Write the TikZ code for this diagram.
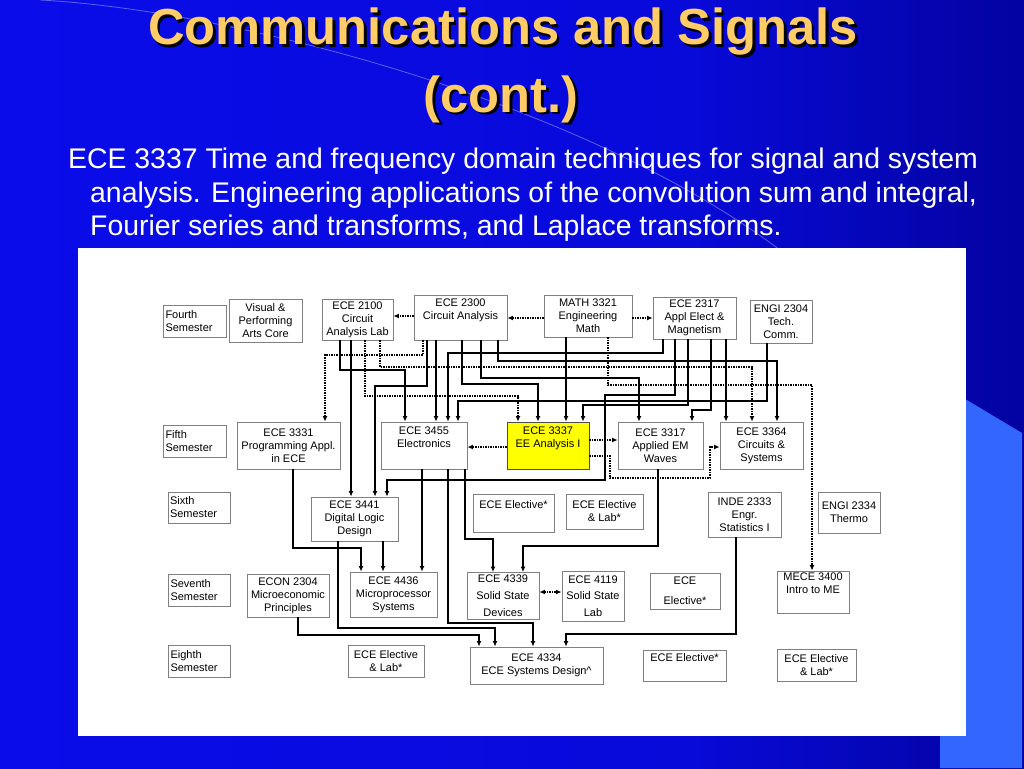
\documentclass[tikz,border=0pt]{standalone}
\usepackage{fontspec}
\setmainfont{Liberation Sans}
\usetikzlibrary{arrows.meta}
\definecolor{slideblue}{RGB}{12,14,246}
\definecolor{slidemid}{RGB}{8,10,218}
\definecolor{slidedeep}{RGB}{2,2,150}
\definecolor{slidenavy}{RGB}{0,0,60}
\definecolor{titlegold}{RGB}{255,204,102}
\definecolor{wedgeblue}{RGB}{51,102,255}
\definecolor{boxgray}{RGB}{128,128,128}
\definecolor{eeyellow}{RGB}{255,255,0}
\pgfdeclarehorizontalshading{slidebg}{100bp}{color(0bp)=(slideblue); color(58bp)=(slidemid); color(78bp)=(slidedeep); color(90bp)=(slidenavy); color(100bp)=(black)}
\newcommand{\titlefont}{\fontsize{50.7}{60}\selectfont\bfseries}
\newcommand{\bodyfont}{\fontsize{28.4}{34}\selectfont}
\newcommand{\coursefont}{\fontsize{11}{13}\selectfont}
\newcommand{\shadowed}[1]{\makebox[0pt][l]{\hspace{2.5pt}\raisebox{-2.5pt}{\textcolor{black}{#1}}}#1}
\tikzset{
	course/.style={draw=boxgray, line width=0.9pt, fill=white, align=center, inner sep=1pt, font=\coursefont},
	semester/.style={course, align=left, inner sep=2pt, text width=59pt},
	prereq/.style={line width=1.1pt, -{Latex[length=5.5pt,width=5pt]}},
	coreq/.style={prereq, dash pattern=on 1.2pt off 1.3pt},
}

\begin{document}
\begin{tikzpicture}[x=1pt, y=-1pt]
			%%%%% START %%%%%
			\useasboundingbox (0,0) rectangle (1024,768);
			\shade[shading=slidebg] (0,0) rectangle (1024,768);
			\draw[line width=0.8pt, color=white, opacity=0.35] (40,0) .. controls (230,10) and (580,100) .. (780,250);
			\fill[wedgeblue] (940,384) -- (1022,433) -- (1022,768) -- (940,768) -- cycle;
			
			\node[anchor=base, font=\titlefont, text=titlegold, inner sep=0] (title) at (503,45) {\shadowed{Communications and Signals}};
			\node[anchor=base, font=\titlefont, text=titlegold, inner sep=0] (titlecont) at (501,112) {\shadowed{(cont.)}};
			
			\node[anchor=base west, font=\bodyfont, text=white, inner sep=0] (body1) at (68,168) {ECE 3337 Time and frequency domain techniques for signal and system};
			\node[anchor=base west, font=\bodyfont, text=white, inner sep=0] (body2) at (90,202) {analysis. Engineering applications of the convolution sum and integral,};
			\node[anchor=base west, font=\bodyfont, text=white, inner sep=0] (body3) at (90,235) {Fourier series and transforms, and Laplace transforms.};
			
			\fill[white] (78,248) rectangle (966,736);
			
			% semesters
			\node[semester, minimum height=32pt] (lbl4) at (195,321) {Fourth\\Semester};
			\node[semester, minimum height=32pt] (lbl5) at (195,441) {Fifth\\Semester};
			\node[semester, minimum height=31pt, text width=58pt] (lbl6) at (199,507.5) {Sixth\\Semester};
			\node[semester, minimum height=32pt, text width=58pt] (lbl7) at (199.5,590) {Seventh\\Semester};
			\node[semester, minimum height=32pt, text width=58pt] (lbl8) at (199.5,661) {Eighth\\Semester};
			
			% fourth
			\node[course, minimum width=73pt, minimum height=43pt] (vpa) at (265.5,320.5) {Visual \&\\Performing\\Arts Core};
			\node[course, minimum width=71pt, minimum height=41pt] (ece2100) at (357.5,319.5) {ECE 2100\\Circuit\\Analysis Lab};
			\node[course, minimum width=93pt, minimum height=45pt] (ece2300) at (460.5,317.5) {ECE 2300\\Circuit Analysis\\\strut};
			\node[course, minimum width=88pt, minimum height=42pt] (math3321) at (588,316) {MATH 3321\\Engineering\\Math};
			\node[course, minimum width=83pt, minimum height=42pt] (ece2317) at (694.5,318) {ECE 2317\\Appl Elect \&\\Magnetism};
			\node[course, minimum width=62pt, minimum height=43pt] (engi2304) at (781,321.5) {ENGI 2304\\Tech.\\Comm.};
			
			% fifth
			\node[course, minimum width=103pt, minimum height=47pt] (ece3331) at (288.5,445.5) {ECE 3331\\Programming Appl.\\in ECE};
			\node[course, minimum width=86pt, minimum height=47pt] (ece3455) at (424,445.5) {ECE 3455\\Electronics\\\strut};
			\node[course, minimum width=82pt, minimum height=47pt, fill=eeyellow, draw=black!70] (ece3337) at (548,445.5) {ECE 3337\\EE Analysis I\\\strut};
			\node[course, minimum width=85pt, minimum height=47pt] (ece3317) at (660.5,445.5) {ECE 3317\\Applied EM\\Waves};
			\node[course, minimum width=83pt, minimum height=47pt] (ece3364) at (761.5,445.5) {ECE 3364\\Circuits \&\\Systems};
			
			% sixth
			\node[course, minimum width=87pt, minimum height=44pt] (ece3441) at (354.5,519) {ECE 3441\\Digital Logic\\Design};
			\node[course, minimum width=81pt, minimum height=38pt] (elec6) at (513.5,513) {ECE Elective*\\\strut};
			\node[course, minimum width=77pt, minimum height=35pt] (eleclab6) at (604.5,511.5) {ECE Elective\\\& Lab*};
			\node[course, minimum width=73pt, minimum height=45pt] (inde2333) at (744.5,514.5) {INDE 2333\\Engr.\\Statistics I};
			\node[course, minimum width=62pt, minimum height=41pt] (engi2334) at (849,512.5) {ENGI 2334\\Thermo};
			
			% seventh
			\node[course, minimum width=82pt, minimum height=43pt] (econ2304) at (288,595.5) {ECON 2304\\Microeconomic\\Principles};
			\node[course, minimum width=87pt, minimum height=45pt] (ece4436) at (393.5,594.5) {ECE 4436\\Microprocessor\\Systems};
			\node[course, minimum width=72pt, minimum height=47pt, font={\fontsize{11}{17}\selectfont}] (ece4339) at (503,596) {ECE 4339\\Solid State\\Devices};
			\node[course, minimum width=62pt, minimum height=50pt, font={\fontsize{11}{16.5}\selectfont}] (ece4119) at (593,596) {ECE 4119\\Solid State\\Lab};
			\node[course, minimum width=70pt, minimum height=36pt, font={\fontsize{11}{20}\selectfont}] (elec7) at (685,591) {ECE\\Elective*};
			\node[course, minimum width=72pt, minimum height=42pt] (mece3400) at (813,592) {MECE 3400\\Intro to ME\\\strut};
			
			% eighth
			\node[course, minimum width=76pt, minimum height=32pt] (eleclab8) at (386,661) {ECE Elective\\\& Lab*};
			\node[course, minimum width=133pt, minimum height=37pt] (ece4334) at (536.5,665.5) {ECE 4334\\ECE Systems Design\textasciicircum};
			\node[course, minimum width=83pt, minimum height=31pt] (elec8) at (684.5,665.5) {ECE Elective*\\\strut};
			\node[course, minimum width=79pt, minimum height=32pt] (eleclab8r) at (816.5,665) {ECE Elective\\\& Lab*};
			
			% fourth -> fifth
			\draw[coreq] (ece2300.west |- 0,316) -- (ece2100.east |- 0,316);
			\draw[coreq] (math3321.west |- 0,318) -- (ece2300.east |- 0,318);
			\draw[coreq] (math3321.east |- 0,318) -- (ece2317.west |- 0,318);
			\draw[prereq] (ece2100.south -| 340,0) |- (405,370) -- (ece3455.north -| 405,0);
			\draw[prereq] (ece2100.south -| 351,0) -- (ece3441.north -| 351,0);
			\draw[coreq] (ece2100.south -| 365,0) |- (518,396) -- (ece3337.north -| 518,0);
			\draw[coreq] (ece2100.south -| 380,0) |- (752,367) -- (ece3364.north -| 752,0);
			\draw[coreq] (ece2300.south -| 423,0) |- (325,355) -- (ece3331.north -| 325,0);
			\draw[prereq] (ece2300.south -| 427,0) |- (375,386) -- (ece3441.north -| 375,0);
			\draw[prereq] (ece2300.south -| 436,0) -- (ece3455.north -| 436,0);
			\draw[prereq] (ece2300.south -| 462,0) |- (538,384) -- (ece3337.north -| 538,0);
			\draw[prereq] (ece2300.south -| 481,0) |- (639,378) -- (ece3317.north -| 639,0);
			\draw[prereq] (ece2300.south -| 498,0) |- (777,361) -- (ece3364.north -| 777,0);
			\draw[prereq] (math3321.south -| 566,0) -- (ece3337.north -| 566,0);
			\draw[coreq] (math3321.south -| 608,0) |- (812,385) -- (mece3400.north -| 812,0);
			\draw[prereq] (ece2317.south -| 663,0) |- (448,353) -- (ece3455.north -| 448,0);
			\draw[prereq] (ece2317.south -| 675,0) |- (605,395) |- (387,480) -- (ece3441.north -| 387,0);
			\draw[prereq] (ece2317.south -| 688,0) |- (583,405) -- (ece3337.north -| 583,0);
			\draw[prereq] (ece2317.south -| 711,0) |- (692,410) -- (ece3317.north -| 692,0);
			\draw[prereq] (ece2317.south -| 726,0) -- (ece3364.north -| 726,0);
			\draw[prereq] (engi2304.south -| 767,0) |- (458,401) -- (ece3455.north -| 458,0);
			
			% fifth row
			\draw[coreq] (ece3337.west |- 0,447) -- (ece3455.east |- 0,447);
			\draw[coreq] (ece3337.east |- 0,440) -- (ece3317.west |- 0,440);
			\draw[coreq] (ece3337.east |- 0,456) -| (610,478) -| (710,447) -- (ece3364.west |- 0,447);
			
			% fifth -> eighth
			\draw[prereq] (ece3331.south -| 293,0) |- (361,548) -- (ece4436.north -| 361,0);
			\draw[prereq] (ece3441.south -| 383,0) -- (ece4436.north -| 383,0);
			\draw[prereq] (ece3455.south -| 422,0) -- (ece4436.north -| 422,0);
			\draw[prereq] (ece3455.south -| 465,0) |- (493,539) -- (ece4339.north -| 493,0);
			\draw[prereq] (ece3317.south -| 658,0) |- (523,546) -- (ece4339.north -| 523,0);
			\draw[coreq, {Latex[length=5.5pt,width=5pt]}-{Latex[length=5.5pt,width=5pt]}] (ece4339.east |- 0,592) -- (ece4119.west |- 0,592);
			\draw[prereq] (ece3441.south -| 338,0) |- (495,628) -- (ece4334.north -| 495,0);
			\draw[prereq] (econ2304.south -| 298,0) |- (479,635) -- (ece4334.north -| 479,0);
			\draw[prereq] (ece3455.south -| 448,0) |- (533,623) -- (ece4334.north -| 533,0);
			\draw[prereq] (inde2333.south -| 736,0) |- (566,634) -- (ece4334.north -| 566,0);
			
			%%%%% END %%%%%
		\end{tikzpicture}
\end{document}
